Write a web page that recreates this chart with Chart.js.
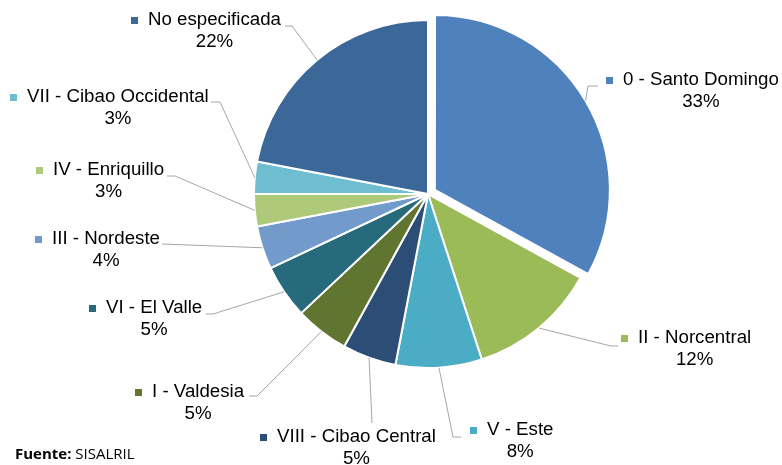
<!DOCTYPE html>
<html>
<head>
<meta charset="utf-8">
<script src="https://cdn.jsdelivr.net/npm/chart.js@4"></script>
<style>
    html, body { margin: 0; padding: 0; background: #fff; }
    #wrap { position: relative; width: 782px; height: 465px; }
    #source { position: absolute; left: 15px; top: 443px; font-family: "Open Sans", sans-serif; font-size: 15px; color: #000; }
</style>
</head>
<body>
<div id="wrap">
    <canvas id="regionChart" width="782" height="465"></canvas>
    <div id="source"><b>Fuente:</b> SISALRIL</div>
</div>
<script>
// Data
const regions = ['0 - Santo Domingo', 'II - Norcentral', 'V - Este', 'VIII - Cibao Central', 'I - Valdesia',
    'VI - El Valle', 'III - Nordeste', 'IV - Enriquillo', 'VII - Cibao Occidental', 'No especificada'];
const shares = [33, 12, 8, 5, 5, 5, 4, 3, 3, 22];
const percentLabels = ['33%', '12%', '8%', '5%', '5%', '5%', '4%', '3%', '3%', '22%'];

const sliceColors = ['#4F81BD', '#9BBB59', '#4BACC6', '#2C4D75', '#5F7530',
    '#276A7C', '#729ACA', '#AFC97A', '#6FBDD1', '#3B6799'];

// Label layout: name text left x, first line centre y, leader elbow (ex, ey) and horizontal end hx
const labelLayout = [
    { x: 623, y: 80,  ex: 588, ey: 86,  hx: 598 },
    { x: 638, y: 338, ex: 611, ey: 346, hx: 618 },
    { x: 487, y: 430, ex: 453, ey: 437, hx: 461 },
    { x: 277, y: 437, ex: 372, ey: 423, hx: 372 },
    { x: 152, y: 392, ex: 257, ey: 396, hx: 249 },
    { x: 106, y: 308, ex: 213, ey: 314, hx: 206 },
    { x: 52,  y: 239, ex: 162, ey: 244, hx: 162 },
    { x: 53,  y: 170, ex: 175, ey: 176, hx: 167 },
    { x: 27,  y: 97,  ex: 220, ey: 102, hx: 211 },
    { x: 148, y: 20,  ex: 292, ey: 26,  hx: 285 }
];

const labelFont = '18.7px "Liberation Sans", Arial, sans-serif';

const labelPlugin = {
    id: 'pieLabels',
    afterDatasetsDraw(chart) {
        const ctx = chart.ctx;
        const meta = chart.getDatasetMeta(0);
        ctx.save();
        ctx.font = labelFont;
        ctx.textBaseline = 'middle';
        meta.data.forEach((arc, i) => {
            const lay = labelLayout[i];
            const mid = (arc.startAngle + arc.endAngle) / 2;
            // same shift Chart.js applies to an exploded slice
            const off = (arc.options.offset || 0) / 4;
            const fix = 1 - Math.sin(Math.min(Math.PI, arc.circumference || 0));
            const shift = off * (1 + fix);
            const r = arc.outerRadius + shift;
            const sx = arc.x + Math.cos(mid) * r;
            const sy = arc.y + Math.sin(mid) * r;

            // leader line
            ctx.strokeStyle = '#A6A6A6';
            ctx.lineWidth = 1;
            ctx.beginPath();
            ctx.moveTo(sx, sy);
            ctx.lineTo(lay.ex, lay.ey);
            ctx.lineTo(lay.hx, lay.ey);
            ctx.stroke();

            // marker + name
            const nameW = ctx.measureText(regions[i]).width;
            ctx.fillStyle = sliceColors[i];
            ctx.fillRect(lay.x - 17, lay.y - 3, 7, 7);
            ctx.fillStyle = '#000';
            ctx.textAlign = 'left';
            ctx.fillText(regions[i], lay.x, lay.y);

            // percent centred under the name
            ctx.textAlign = 'center';
            ctx.fillText(percentLabels[i], lay.x + nameW / 2, lay.y + 22);
        });
        ctx.restore();
    }
};

new Chart(document.getElementById('regionChart'), {
    type: 'pie',
    data: {
        labels: regions,
        datasets: [{
            data: shares,
            backgroundColor: sliceColors,
            borderColor: '#ffffff',
            borderWidth: 2,
            offset: [32, 0, 0, 0, 0, 0, 0, 0, 0, 0]
        }]
    },
    options: {
        responsive: false,
        animation: false,
        radius: 174,
        layout: { padding: { left: 254, right: 180, top: 20, bottom: 97 } },
        plugins: {
            legend: { display: false },
            tooltip: { enabled: false }
        }
    },
    plugins: [labelPlugin]
});
</script>
</body>
</html>
